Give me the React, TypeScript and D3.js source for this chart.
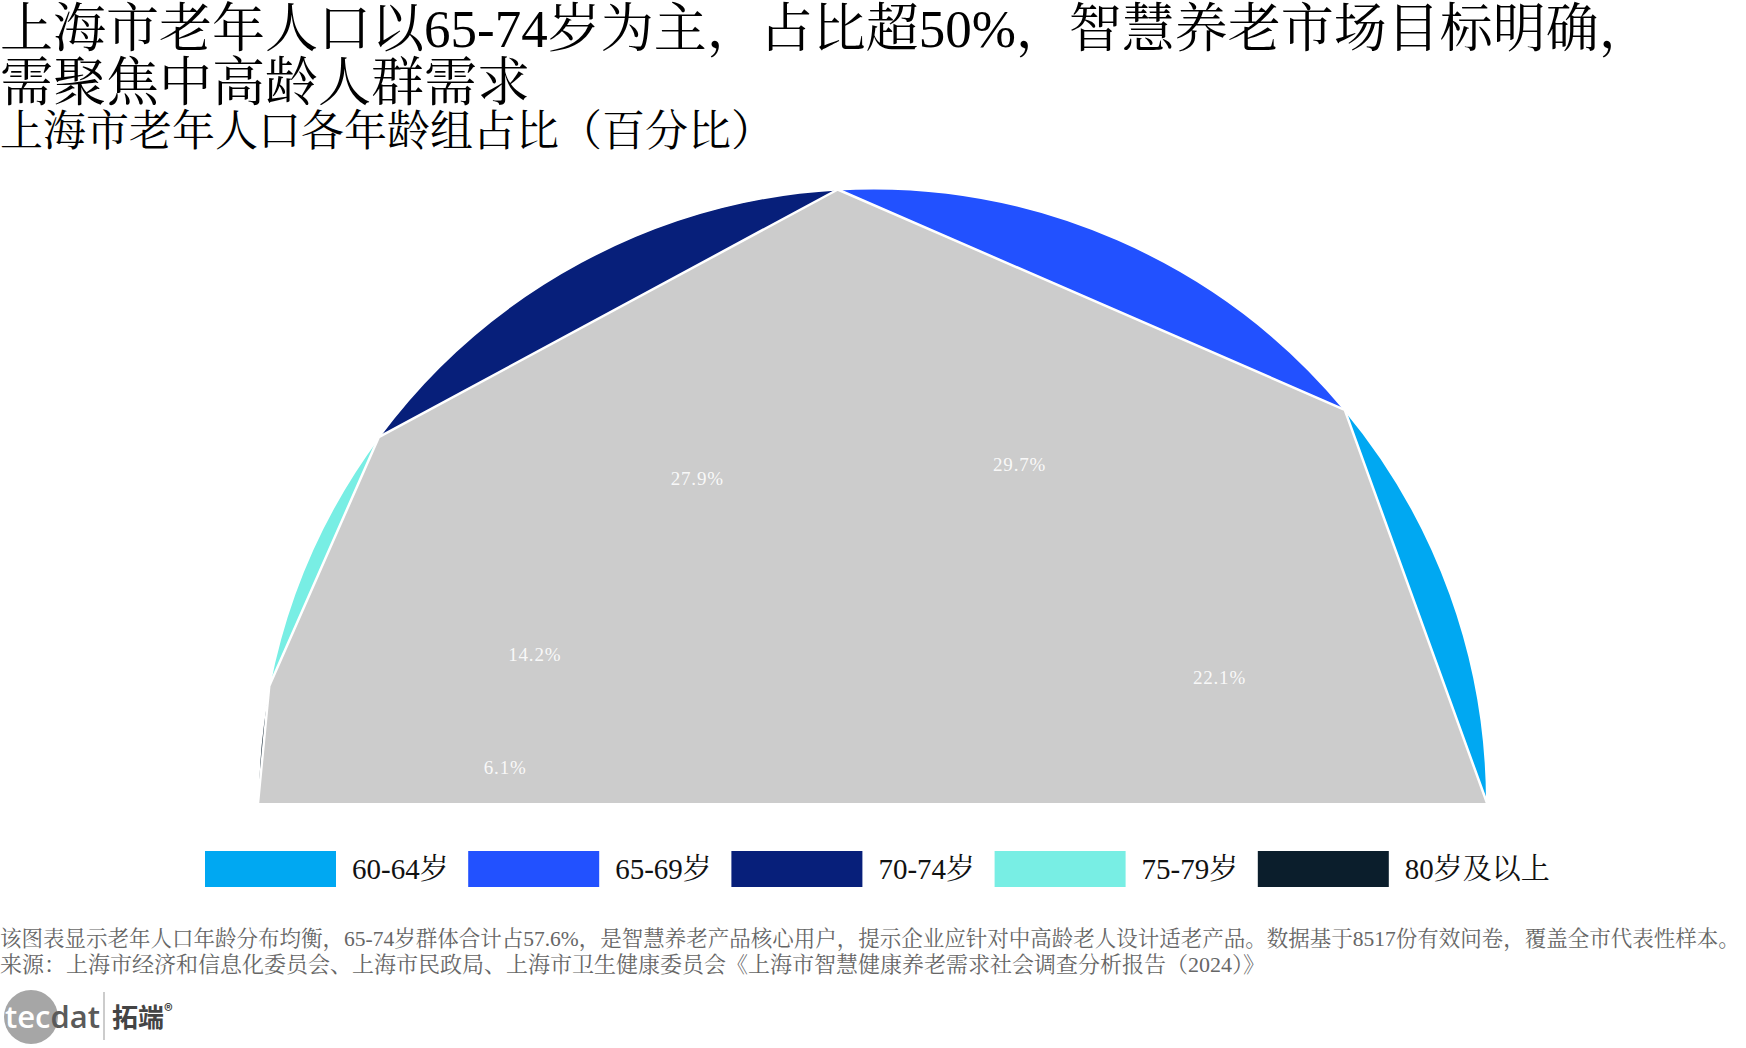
import React from "react";
import * as d3 from "d3";

const categories = ["60-64岁", "65-69岁", "70-74岁", "75-79岁", "80岁及以上"];
const values = [22.1, 29.7, 27.9, 14.2, 6.1];
const colors = ["#00A8F2", "#2251FF", "#071F7A", "#78EEE4", "#0B1E2C"];

const titleLines = [
  "上海市老年人口以65-74岁为主，占比超50%，智慧养老市场目标明确，",
  "需聚焦中高龄人群需求",
];
const subtitle = "上海市老年人口各年龄组占比（百分比）";
const footnote =
  "该图表显示老年人口年龄分布均衡，65-74岁群体合计占57.6%，是智慧养老产品核心用户，提示企业应针对中高龄老人设计适老产品。数据基于8517份有效问卷，覆盖全市代表性样本。";
const source =
  "来源：上海市经济和信息化委员会、上海市民政局、上海市卫生健康委员会《上海市智慧健康养老需求社会调查分析报告（2024）》";

const W = 1746;
const H = 1048;
const FONT = "'Liberation Serif', 'Noto Serif CJK SC', 'Noto Sans CJK SC', serif";

export default function App() {
  const cx = 872.5;
  const cy = 803;
  const R = 614.5;
  const labelR = 369;

  const pie = d3
    .pie<number>()
    .sort(null)
    .value((d) => d)
    .startAngle(Math.PI / 2)
    .endAngle(-Math.PI / 2);
  const arcs = pie(values);
  const arcGen = d3.arc<d3.PieArcDatum<number>>().innerRadius(0).outerRadius(R);

  const pt = (a: number, r: number) => [r * Math.sin(a), -r * Math.cos(a)];
  const boundaries = [arcs[0].startAngle, ...arcs.map((a) => a.endAngle)];
  const chordPts = boundaries.map((a) => pt(a, R));
  const chordPath = d3.line()(chordPts as [number, number][]) as string;
  const polyPath = chordPath + "Z";

  const legendX = d3.scaleBand<string>().domain(categories).range([205, 1521]);

  return (
    <div style={{ position: "fixed", left: 0, top: 0, width: W, height: H, background: "#fff" }}>
      <svg width={W} height={H} style={{ display: "block", fontFamily: FONT }}>
        <rect width={W} height={H} fill="#fff" />
        {titleLines.map((t, i) => (
          <text key={i} x={0} y={47 + i * 54} fontSize={53} fill="#000">
            {t}
          </text>
        ))}
        <text x={0} y={146} fontSize={43} fill="#000">
          {subtitle}
        </text>

        <g transform={`translate(${cx},${cy})`}>
          {arcs.map((a, i) => (
            <path key={i} d={arcGen(a) as string} fill={colors[i]} stroke="#fff" strokeWidth={2} />
          ))}
          <path d={polyPath} fill="#CCCCCC" stroke="none" />
          <path d={chordPath} fill="none" stroke="#fff" strokeWidth={2.5} strokeLinejoin="round" />
          {arcs.map((a, i) => {
            const mid = (a.startAngle + a.endAngle) / 2;
            const [x, y] = pt(mid, labelR);
            return (
              <text
                key={i}
                x={x}
                y={y}
                textAnchor="middle"
                dominantBaseline="central"
                fontSize={19}
                letterSpacing={0.8}
                fill="#fff"
                fillOpacity={0.9}
              >
                {values[i].toFixed(1) + "%"}
              </text>
            );
          })}
        </g>

        {categories.map((c, i) => {
          const x = legendX(c) as number;
          return (
            <g key={c}>
              <rect x={x} y={851} width={131} height={36} fill={colors[i]} />
              <text x={x + 147} y={869} dominantBaseline="central" fontSize={29} fill="#111">
                {c}
              </text>
            </g>
          );
        })}

        <text x={0} y={946} fontSize={21.5} fill="#666">
          {footnote}
        </text>
        <text x={0} y={972} fontSize={22} fill="#666">
          {source}
        </text>

        <g>
          <circle cx={31} cy={1017} r={27} fill="#A6A6A6" />
          <text x={5} y={1028} fontSize={31} fontFamily="'Open Sans', 'DejaVu Sans', sans-serif" fontWeight={600}>
            <tspan fill="#fff">tec</tspan>
            <tspan fill="#5a5a5a">dat</tspan>
          </text>
          <line x1={104} x2={104} y1={992} y2={1040} stroke="#bbb" strokeWidth={1.5} />
          <text x={112} y={1027} fontSize={26} fontWeight={700} fill="#444" fontFamily="'Noto Sans CJK SC', sans-serif">
            拓端
            <tspan fontSize={17} dy={-10}>®</tspan>
          </text>
        </g>
      </svg>
    </div>
  );
}
